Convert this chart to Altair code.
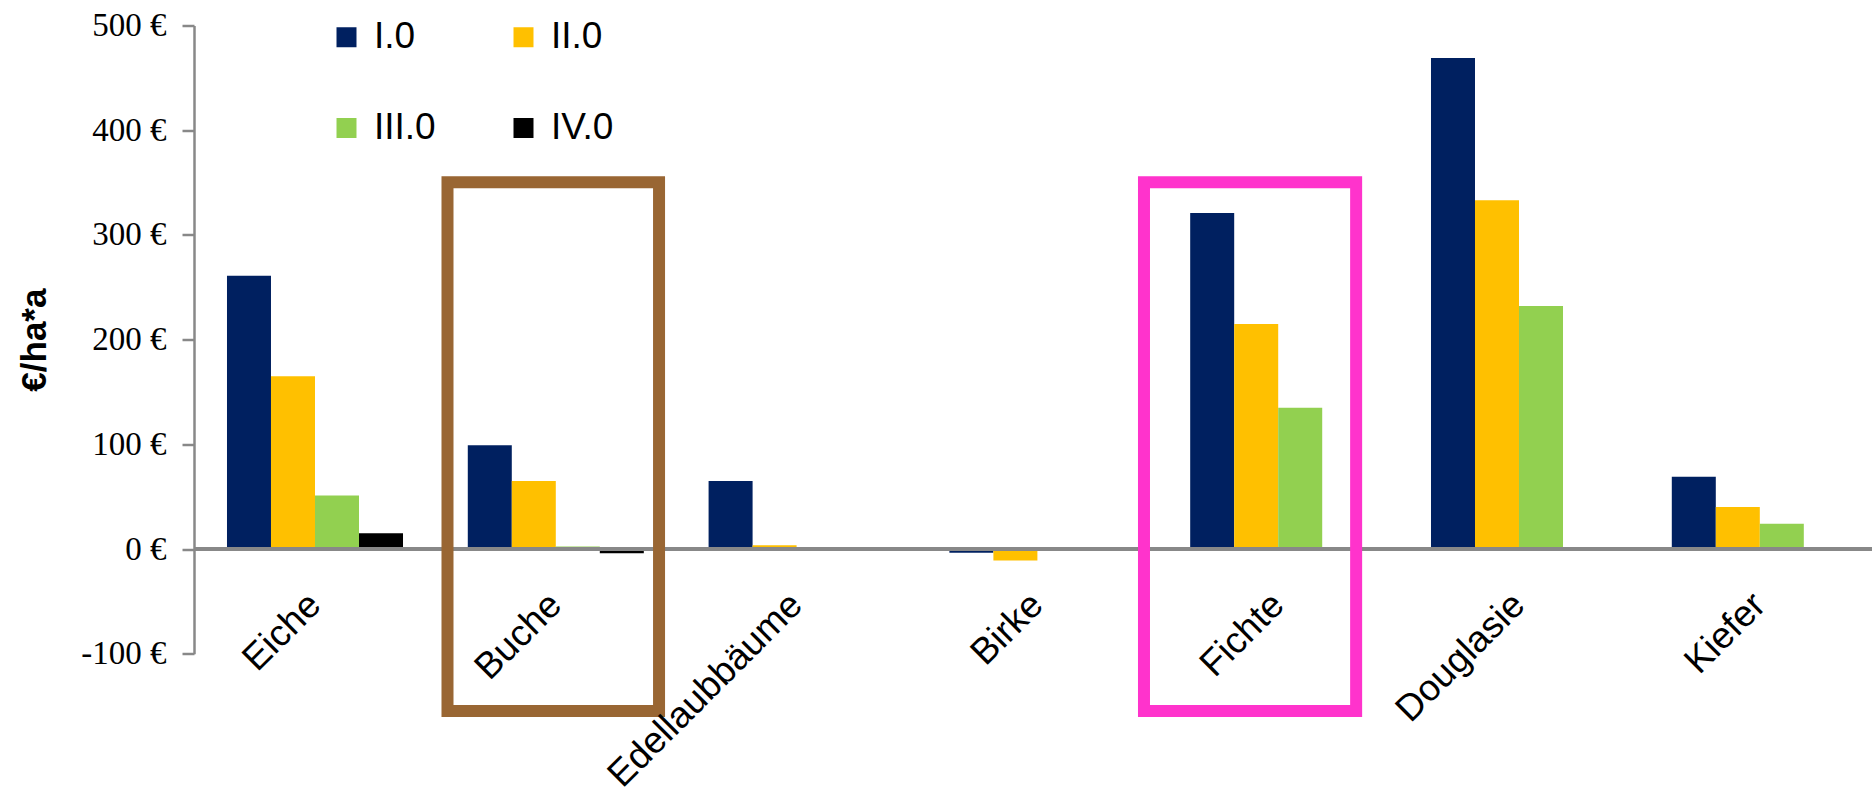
import altair as alt
import pandas as pd

# ---- data ----
categories = ["Eiche", "Buche", "Edellaubbäume", "Birke", "Fichte", "Douglasie", "Kiefer"]
series = ["I.0", "II.0", "III.0", "IV.0"]
values_I = [261, 99, 65, -3.5, 321, 469, 69]
values_II = [165, 65, 3.5, -11, 215, 333, 40]
values_III = [51, 2.5, None, None, 135, 232, 24]
values_IV = [15, -4, None, None, None, None, None]
series_colors = ["#002060", "#FFC000", "#92D050", "#000000"]

y_ticks = [-100, 0, 100, 200, 300, 400, 500]

# highlight frames (in category units along x, value units along y)
highlight_cat = ["Buche", "Fichte"]
highlight_x0 = [1.0575, 3.963]
highlight_x1 = [1.94, 4.848]
highlight_y0 = [-154.7, -154.7]
highlight_y1 = [350.2, 350.2]
highlight_colors = ["#996633", "#FF33CC"]

rows = []
for s, vals in zip(series, [values_I, values_II, values_III, values_IV]):
    for c, v in zip(categories, vals):
        if v is not None:
            rows.append({"category": c, "series": s, "value": v})
df = pd.DataFrame(rows)

hdf = pd.DataFrame({
    "cat": highlight_cat,
    "x0": highlight_x0,
    "x1": highlight_x1,
    "value": highlight_y1,
    "value2": highlight_y0,
})
zero_df = pd.DataFrame({"value": [0]})

Y_TITLE = "€/ha*a"
y_scale = alt.Scale(domain=[-100, 500], nice=False, zero=False)

bars = alt.Chart(df).mark_bar().encode(
    x=alt.X(
        "category:N",
        sort=categories,
        scale=alt.Scale(domain=categories, paddingInner=0.269, paddingOuter=0.1187, align=0.577),
        axis=alt.Axis(
            title=None, domain=False, ticks=False, tickSize=0,
            labelAngle=-45, labelAlign="right", labelBaseline="middle",
            labelFont="Liberation Sans", labelFontSize=37, labelColor="black",
            labelPadding=50, labelLimit=500, labelOverlap=False,
            offset={"expr": "scale('y', 0) - height"}, zindex=1,
        ),
    ),
    xOffset=alt.XOffset("series:N", scale=alt.Scale(domain=series, paddingInner=0, paddingOuter=0)),
    y=alt.Y(
        "value:Q",
        scale=y_scale,
        axis=alt.Axis(
            title=Y_TITLE, values=y_ticks, labelExpr="datum.value + ' €'",
            grid=False, domainColor="#888888", domainWidth=2.5,
            tickColor="#888888", tickWidth=2.5, tickSize=12,
            labelFont="Liberation Serif", labelFontSize=33, labelColor="black",
            labelPadding=16,
            titleFont="Liberation Sans", titleFontSize=35, titleFontWeight="bold",
            titleColor="black", titlePadding=28,
        ),
    ),
    color=alt.Color(
        "series:N",
        scale=alt.Scale(domain=series, range=series_colors),
        legend=alt.Legend(
            title=None, orient="none", legendX=134, legendY=-7, columns=2,
            direction="horizontal",
            symbolType="square", symbolSize=400, symbolStrokeWidth=0,
            labelFont="Liberation Sans", labelFontSize=37, labelColor="black",
            labelOffset=9, columnPadding=69, rowPadding=53,
        ),
    ),
)

zero_line = alt.Chart(zero_df).mark_rule(color="#888888", strokeWidth=4).encode(
    y=alt.Y("value:Q", scale=y_scale, title=Y_TITLE)
)

frames = alt.Chart(hdf).mark_rect(filled=False, strokeWidth=12, strokeJoin="miter", clip=False).encode(
    x=alt.X("x0:Q", scale=alt.Scale(domain=[0, 7], nice=False, zero=False), axis=None),
    x2="x1:Q",
    y=alt.Y("value:Q", scale=y_scale, title=Y_TITLE),
    y2="value2:Q",
    stroke=alt.Stroke("cat:N", scale=alt.Scale(domain=highlight_cat, range=highlight_colors), legend=None),
)

chart = (
    alt.layer(bars, zero_line, frames)
    .resolve_scale(x="independent")
    .properties(
        width=1678,
        height=628.2,
        autosize=alt.AutoSizeParams(type="none"),
        padding={"left": 194, "top": 25.5, "right": 0, "bottom": 143.3},
        background="white",
    )
    .configure_view(stroke=None)
)

chart.save("out.html", embed_options={"renderer": "svg", "actions": False})
